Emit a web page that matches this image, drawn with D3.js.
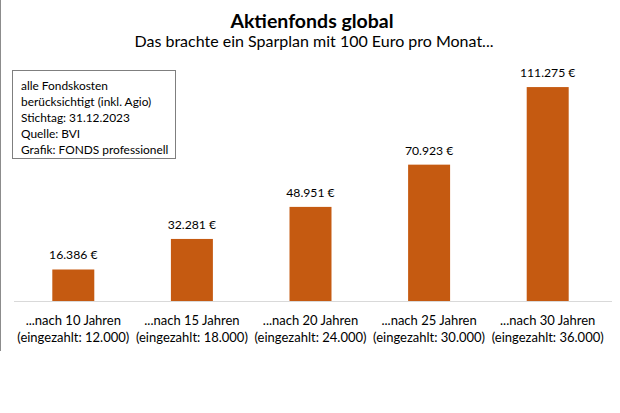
<!DOCTYPE html>
<html><head><meta charset="utf-8">
<script src="https://cdn.jsdelivr.net/npm/d3@7"></script>
<style>body{margin:0;background:#fff}svg{display:block}text{font-family:Lato,"Liberation Sans",sans-serif;fill:#000}</style>
</head><body>
<svg id="c" width="620" height="413"></svg>
<script>
const categories = ["...nach 10 Jahren", "...nach 15 Jahren", "...nach 20 Jahren", "...nach 25 Jahren", "...nach 30 Jahren"];
const paidIn = ["(eingezahlt: 12.000)", "(eingezahlt: 18.000)", "(eingezahlt: 24.000)", "(eingezahlt: 30.000)", "(eingezahlt: 36.000)"];
const values = [16386, 32281, 48951, 70923, 111275];
const valueLabels = ["16.386 €", "32.281 €", "48.951 €", "70.923 €", "111.275 €"];
const noteLines = ["alle Fondskosten", "berücksichtigt (inkl. Agio)", "Stichtag: 31.12.2023", "Quelle: BVI", "Grafik: FONDS professionell"];
const title = "Aktienfonds global";
const subtitle = "Das brachte ein Sparplan mit 100 Euro pro Monat...";

const svg = d3.select("#c");
const x = d3.scaleBand().domain(categories).range([14, 607]).paddingInner(0.646).paddingOuter(0.323);
const y = d3.scaleLinear().domain([0, 120000]).range([301, 70.3]);

svg.append("line").attr("x1",0.5).attr("x2",0.5).attr("y1",0).attr("y2",351).attr("stroke","#8c8c8c").attr("stroke-width",1);

svg.append("text").attr("x",312).attr("y",28).attr("text-anchor","middle").attr("font-size",19.5).attr("font-weight","bold").text(title);
svg.append("text").attr("x",314).attr("y",47).attr("text-anchor","middle").attr("font-size",16).text(subtitle);

svg.append("line").attr("x1",14).attr("x2",612).attr("y1",301.5).attr("y2",301.5).attr("stroke","#d9d9d9");

svg.selectAll("rect.bar").data(values).join("rect").attr("class","bar")
  .attr("x",(d,i)=>x(categories[i])).attr("width",x.bandwidth())
  .attr("y",d=>y(d)).attr("height",d=>y(0)-y(d)).attr("fill","#c55a11");

svg.selectAll("text.val").data(values).join("text").attr("class","val")
  .attr("x",(d,i)=>x(categories[i])+x.bandwidth()/2).attr("y",d=>y(d)-10)
  .attr("text-anchor","middle").attr("font-size",12.2).text((d,i)=>valueLabels[i]);

const xa = svg.append("g");
categories.forEach((c,i)=>{
  const cx = x(c)+x.bandwidth()/2;
  xa.append("text").attr("x",cx).attr("y",325).attr("text-anchor","middle").attr("font-size",13).text(c);
  xa.append("text").attr("x",cx).attr("y",342).attr("text-anchor","middle").attr("font-size",13).text(paidIn[i]);
});

svg.append("rect").attr("x",12.5).attr("y",70.5).attr("width",163).attr("height",88).attr("fill","#fff").attr("stroke","#7f7f7f");
noteLines.forEach((t,i)=>{
  svg.append("text").attr("x",21).attr("y",90+i*16).attr("font-size",11.9).text(t);
});
</script>
</body></html>
